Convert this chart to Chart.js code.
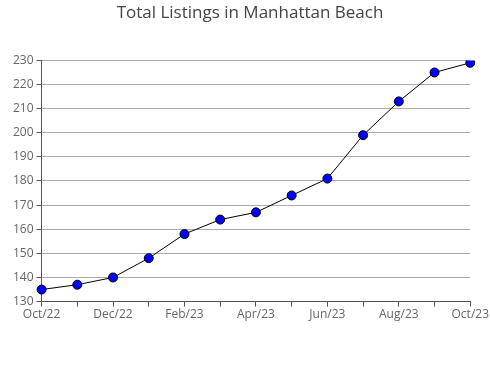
<!DOCTYPE html>
<html>
<head>
<meta charset="utf-8">
<script src="https://cdn.jsdelivr.net/npm/chart.js@4.4.0/dist/chart.umd.min.js"></script>
<style>
  html, body { margin: 0; padding: 0; background: #fff; }
  #wrap { width: 490px; height: 380px; position: relative; }
</style>
</head>
<body>
<div id="wrap"><canvas id="listings"></canvas></div>
<script>
var months = ['Oct/22', 'Nov/22', 'Dec/22', 'Jan/23', 'Feb/23', 'Mar/23', 'Apr/23',
              'May/23', 'Jun/23', 'Jul/23', 'Aug/23', 'Sep/23', 'Oct/23'];
var listings = [135, 137, 140, 148, 158, 164, 167, 174, 181, 199, 213, 225, 229];
var yMin = 130, yMax = 230;

var ctx = document.getElementById("listings");

var listingsChart = new Chart(ctx, {
    type: 'line',
    data: {
        labels: months,
        datasets: [{
            label: 'Total Listings',
            data: listings,
            borderColor: '#000000',
            borderWidth: 1,
            tension: 0,
            pointRadius: 4.5,
            pointBackgroundColor: '#0000ff',
            pointBorderColor: '#000000',
            pointBorderWidth: 1
        }]
    },
    options: {
        responsive: true,
        maintainAspectRatio: false,
        animation: false,
        layout: {
            padding: { left: 10, right: 0, top: 0, bottom: 57 }
        },
        plugins: {
            legend: { display: false },
            tooltip: { enabled: false },
            title: {
                display: true,
                text: 'Total Listings in Manhattan Beach',
                color: '#444',
                font: { family: 'Open Sans', size: 17, weight: 'normal' },
                padding: { top: 3, bottom: 37 }
            }
        },
        scales: {
            x: {
                offset: false,
                border: { color: '#555', width: 1 },
                grid: {
                    drawOnChartArea: false,
                    drawTicks: true,
                    tickLength: 5,
                    tickColor: '#555'
                },
                ticks: {
                    autoSkip: false,
                    maxRotation: 0,
                    color: '#666',
                    padding: 1,
                    font: { family: 'Open Sans', size: 12 },
                    callback: function(value, index) {
                        return index % 2 === 0 ? months[index] : '';
                    }
                }
            },
            y: {
                min: yMin,
                max: yMax,
                border: { color: '#555', width: 1 },
                grid: {
                    color: function(c) {
                        return c.tick && c.tick.value % 10 === 0 ? '#aaaaaa' : 'rgba(0,0,0,0)';
                    },
                    tickColor: '#555',
                    tickLength: 5
                },
                ticks: {
                    stepSize: 5,
                    color: '#666',
                    padding: 3,
                    font: { family: 'Open Sans', size: 12 },
                    callback: function(value) {
                        return value % 10 === 0 ? value : '';
                    }
                }
            }
        }
    }
});
</script>
</body>
</html>
